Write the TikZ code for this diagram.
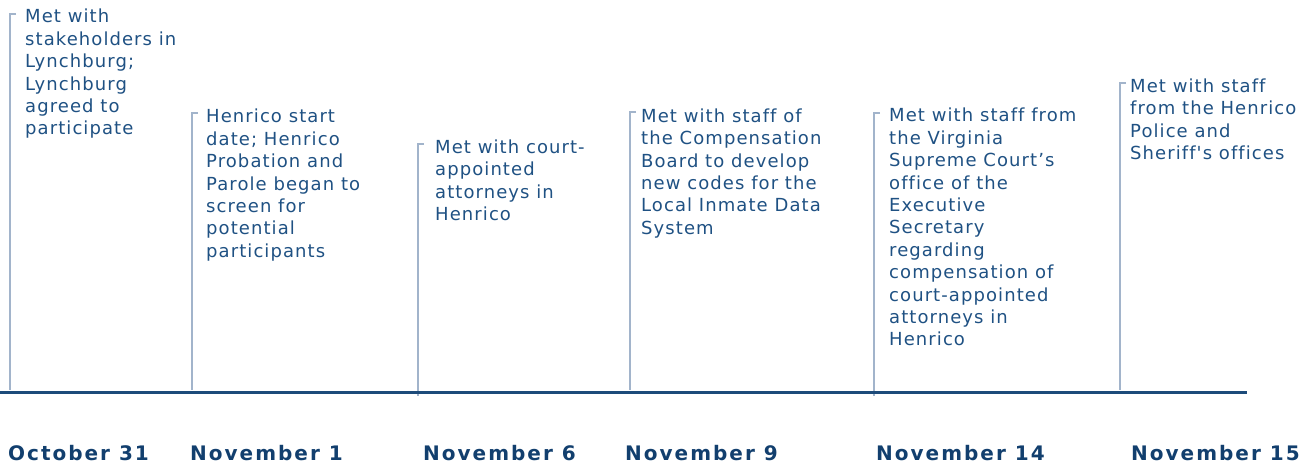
\documentclass[tikz,border=0pt]{standalone}
\usepackage{fontspec}
\newfontfamily\eventfont[LetterSpace=6,Ligatures=NoCommon]{DejaVu Sans}
\newfontfamily\datefont[LetterSpace=10,Ligatures=NoCommon]{DejaVu Sans}
\usetikzlibrary{positioning,calc}
\definecolor{textblue}{HTML}{1F5183}
\definecolor{dateblue}{HTML}{123F6E}
\definecolor{stemblue}{HTML}{A2B4CB}
\definecolor{axisblue}{HTML}{1D4B7A}
\tikzstyle{event} = [anchor=north west, inner sep=0pt, align=left, text=textblue,
    font=\eventfont\fontsize{18}{22.4}\selectfont]
\tikzstyle{date} = [anchor=base west, inner sep=0pt, text=dateblue,
    font=\datefont\bfseries\fontsize{20}{22}\selectfont]
\tikzstyle{stem} = [draw=stemblue, line width=1.5pt]
\tikzstyle{axis} = [draw=axisblue, line width=3pt]

\begin{document}
\begin{tikzpicture}[x=1pt, y=-1pt]
        \useasboundingbox (0,0) rectangle (1313,464);

        % timeline
        \coordinate (start) at (0,392.5);
        \coordinate (end) at (1247,392.5);

        % stems, top and foot
        \coordinate (t1) at (10,14);    \coordinate (f1) at (10,390);
        \coordinate (t2) at (192,113);  \coordinate (f2) at (192,390);
        \coordinate (t3) at (418,144);  \coordinate (f3) at (418,396);
        \coordinate (t4) at (630,112);  \coordinate (f4) at (630,390);
        \coordinate (t5) at (874,113);  \coordinate (f5) at (874,396);
        \coordinate (t6) at (1120,83);  \coordinate (f6) at (1120,390);

        \draw [stem] (t1) ++(6,0) -- (t1) -- (f1);
        \draw [stem] (t2) ++(6,0) -- (t2) -- (f2);
        \draw [stem] (t3) ++(6,0) -- (t3) -- (f3);
        \draw [stem] (t4) ++(6,0) -- (t4) -- (f4);
        \draw [stem] (t5) ++(6,0) -- (t5) -- (f5);
        \draw [stem] (t6) ++(6,0) -- (t6) -- (f6);

        \draw [axis] (start) -- (end);

        % events
        \node [event] (oct31) at (25,9) {Met with\\stakeholders in\\Lynchburg;\\Lynchburg\\agreed to\\participate};
        \node [event] (nov1) at (206,109) {Henrico start\\date; Henrico\\Probation and\\Parole began to\\screen for\\potential\\participants};
        \node [event] (nov6) at (435,139.5) {Met with court-\\appointed\\attorneys in\\Henrico};
        \node [event] (nov9) at (641,108.5) {Met with staff of\\the Compensation\\Board to develop\\new codes for the\\Local Inmate Data\\System};
        \node [event] (nov14) at (889,108) {Met with staff from\\the Virginia\\Supreme Court’s\\office of the\\Executive\\Secretary\\regarding\\compensation of\\court-appointed\\attorneys in\\Henrico};
        \node [event] (nov15) at (1130,78.5) {Met with staff\\from the Henrico\\Police and\\Sheriff's offices};

        % dates
        \node [date] (d1) at (8,460) {October 31};
        \node [date] (d2) at (190,460) {November 1};
        \node [date] (d3) at (423,460) {November 6};
        \node [date] (d4) at (625,460) {November 9};
        \node [date] (d5) at (876,460) {November 14};
        \node [date] (d6) at (1131,460) {November 15};
\end{tikzpicture}
\end{document}
